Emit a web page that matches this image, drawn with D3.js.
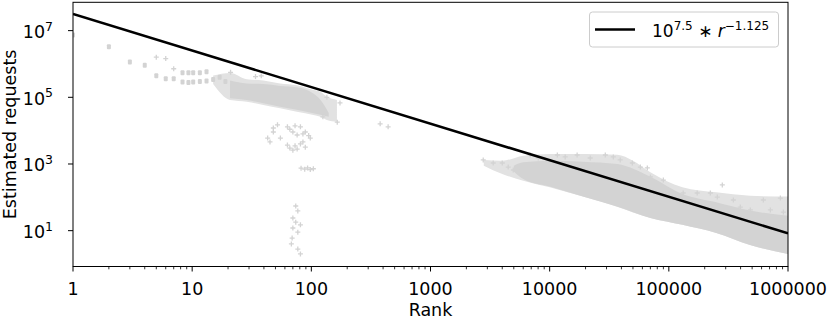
<!DOCTYPE html>
<html><head><meta charset="utf-8">
<script src="https://cdn.jsdelivr.net/npm/d3@7"></script>
<style>body{margin:0;background:#fff}svg{display:block}text{font-family:"DejaVu Sans",sans-serif;fill:#000}</style>
</head><body><svg id="c" width="830" height="320"></svg>
<script>
// ---- data ----
const xTicks = [1, 10, 100, 1000, 10000, 100000, 1000000];
const yTickExps = [1, 3, 5, 7];
const fitRank = [1, 1000000];
const fitValue = [3.16e7, 8.3];
// head points (squares)
const headRank  = [1, 2, 3, 4, 5, 6, 7, 8.3, 9.3, 10.2, 11.6, 13.2, 8.3, 9.3, 10.2, 11.6, 13.2, 15, 17, 19];
const headValue = [7.4e6, 3.3e6, 1.15e6, 9.1e5, 4.4e5, 3.6e5, 3.6e5, 5.5e5, 5.5e5, 5.5e5, 5.5e5, 5.8e5, 2.9e5, 2.8e5, 2.9e5, 3.0e5, 3.1e5, 3.4e5, 4.0e5, 3.0e5];
// sparse points (crosses)
const sparseRank = [5, 6, 7, 21, 34, 38,
  43, 48, 48, 52, 55, 45, 63, 66, 70, 73, 76, 81, 85, 89, 95, 98,
  63, 66, 70, 73, 76, 81, 85, 89,
  82, 88, 93, 98, 104,
  74, 77, 70, 74, 81, 70, 77, 69, 68, 77, 81,
  135, 174, 125, 165, 378, 441,
  2770, 3360, 4000, 4490, 4950, 5660, 6870, 8020, 11600, 13500, 17000, 21900, 29300, 34200, 39100,
  49400, 57700, 66000, 70000, 90000, 132000, 173000, 223000, 281000, 255000, 348000, 398000, 483000,
  621000, 863000, 711000, 914000, 830000];
const sparseValue = [1.6e6, 1.45e6, 7.2e5, 5.6e5, 4.2e5, 4.4e5,
  6000, 1.2e4, 9100, 1.5e4, 6000, 4600, 1.3e4, 1.1e4, 9100, 1.4e4, 7400, 1.3e4, 8000, 9100, 7100, 6000,
  3700, 3000, 2600, 3500, 2800, 4000, 4600, 3200,
  750, 700, 760, 680, 720,
  55, 39, 24, 18, 15, 12, 9, 6, 4, 2.8, 2,
  1.0e5, 6.8e4, 2.6e4, 1.8e4, 1.6e4, 1.3e4,
  1320, 1070, 1070, 810, 660, 575, 1860, 1510, 1860, 1630, 1860, 1510, 1860, 1630, 1320,
  1070, 810, 760, 410, 330, 135, 135, 135, 235, 102, 83, 51, 42,
  83, 95, 42, 36, 21];
// head cluster (ranks ~15-165): sparse envelope and dense core
const clusterHaloRank = [15, 20.8, 28.7, 39.6, 54.7, 75.5, 104, 119, 135, 164];
const clusterHaloLow  = [2.5e5, 8.3e4, 7.4e4, 5.9e4, 4.7e4, 3.7e4, 2.95e4, 2.6e4, 2.1e4, 1.86e4];
const clusterHaloHigh = [4.5e5, 5.4e5, 3.5e5, 3.2e5, 2.6e5, 2.3e5, 1.66e5, 1.48e5, 1.05e5, 8.3e4];
const clusterRank = [20.8, 28.7, 39.6, 54.7, 75.5, 104, 119, 140];
const clusterLow  = [9.3e4, 8.3e4, 6.6e4, 5.2e4, 4.2e4, 3.3e4, 3.0e4, 2.6e4];
const clusterHigh = [3.2e5, 2.6e5, 2.5e5, 2.2e5, 2.0e5, 1.3e5, 8.5e4, 3.4e4];
// long tail (ranks ~2800-1e6): sparse envelope and dense core
const bandHaloRank = [2800, 4000, 6000, 10000, 20000, 37000, 50000, 70000, 130000, 250000, 480000, 1000000];
const bandHaloLow  = [891, 501, 316, 200, 100, 52, 35, 24, 15, 8.5, 3.7, 2];
const bandHaloHigh = [1318, 1259, 1778, 1995, 1995, 1905, 1259, 562, 200, 141, 112, 105];
const bandRank = [5000, 6000, 10000, 19000, 37000, 70000, 130000, 250000, 480000, 1000000];
const bandLow  = [600, 355, 210, 105, 52, 24, 15, 8.5, 3.7, 2];
const bandHigh = [891, 1122, 1259, 1175, 1000, 417, 126, 71, 40, 28];

// ---- layout ----
const svg = d3.select("#c");
const L = 73, R = 788, T = 2.3, B = 266.5;
const x = d3.scaleLog().domain([1, 1e6]).range([L, R]);
const y = d3.scaleLog().domain([Math.pow(10, -0.075), Math.pow(10, 7.85)]).range([B, T]);
const grey = "#d3d3d3", halo = "#e2e2e2";
const FS = 17.5;

svg.append("clipPath").attr("id", "clp").append("rect")
  .attr("x", L).attr("y", T).attr("width", R - L).attr("height", B - T);
const g = svg.append("g").attr("clip-path", "url(#clp)");

const zip = (r, lo, hi) => r.map((v, i) => ({r: v, lo: lo[i], hi: hi[i]}));
const area = d3.area().x(d => x(d.r)).y0(d => y(d.lo)).y1(d => y(d.hi)).curve(d3.curveMonotoneX);
g.append("path").attr("d", area(zip(clusterHaloRank, clusterHaloLow, clusterHaloHigh))).attr("fill", halo);
g.append("path").attr("d", area(zip(bandHaloRank, bandHaloLow, bandHaloHigh))).attr("fill", halo);
g.append("path").attr("d", area(zip(clusterRank, clusterLow, clusterHigh))).attr("fill", grey);
g.append("path").attr("d", area(zip(bandRank, bandLow, bandHigh))).attr("fill", grey);

headRank.forEach((r, i) => {
  g.append("rect").attr("x", x(r) - 2).attr("y", y(headValue[i]) - 2.5)
    .attr("width", 4).attr("height", 5).attr("rx", 1).attr("fill", grey);
});
sparseRank.forEach((r, i) => {
  const cx = x(r), cy = y(sparseValue[i]);
  g.append("path").attr("d", `M${cx - 2.5},${cy}H${cx + 2.5}M${cx},${cy - 2.5}V${cy + 2.5}`)
    .attr("stroke", grey).attr("stroke-width", 1.3);
});

g.append("path")
  .attr("d", d3.line().x(d => x(d[0])).y(d => y(d[1]))(fitRank.map((r, i) => [r, fitValue[i]])))
  .attr("stroke", "#000").attr("stroke-width", 2.6).attr("fill", "none");

svg.append("rect").attr("x", L).attr("y", T).attr("width", R - L).attr("height", B - T)
  .attr("fill", "none").attr("stroke", "#000").attr("stroke-width", 1);

// x axis
const minor = [];
for (let e = 0; e < 6; e++) for (let k = 2; k <= 9; k++) minor.push(k * Math.pow(10, e));
minor.forEach(v => svg.append("line").attr("x1", x(v)).attr("x2", x(v)).attr("y1", B).attr("y2", B + 2.8)
  .attr("stroke", "#000").attr("stroke-width", 0.8));
xTicks.forEach(v => {
  svg.append("line").attr("x1", x(v)).attr("x2", x(v)).attr("y1", B).attr("y2", B + 5)
    .attr("stroke", "#000").attr("stroke-width", 1);
  svg.append("text").attr("x", x(v)).attr("y", 294.5).attr("text-anchor", "middle")
    .attr("font-size", FS).text(String(v));
});
svg.append("text").attr("x", (L + R) / 2).attr("y", 316).attr("text-anchor", "middle")
  .attr("font-size", FS).text("Rank");

// y axis
yTickExps.forEach(e => {
  const yy = y(Math.pow(10, e));
  svg.append("line").attr("x1", L - 5).attr("x2", L).attr("y1", yy).attr("y2", yy)
    .attr("stroke", "#000").attr("stroke-width", 1);
  const t = svg.append("text").attr("x", 53).attr("y", yy + 7.5).attr("text-anchor", "end").attr("font-size", FS);
  t.append("tspan").text("10");
  t.append("tspan").attr("dy", -7.5).attr("font-size", 12.5).text(String(e));
});
svg.append("text").attr("transform", `translate(15.5,${(T + B) / 2}) rotate(-90)`)
  .attr("text-anchor", "middle").attr("font-size", FS).text("Estimated requests");

// legend
const lg = svg.append("g");
lg.append("rect").attr("x", 589.5).attr("y", 12).attr("width", 189).attr("height", 35).attr("rx", 3)
  .attr("fill", "#fff").attr("fill-opacity", 0.8).attr("stroke", "#cccccc").attr("stroke-width", 1);
lg.append("line").attr("x1", 595).attr("x2", 635).attr("y1", 29.5).attr("y2", 29.5)
  .attr("stroke", "#000").attr("stroke-width", 2.6);
const lt = lg.append("text").attr("x", 652).attr("y", 36.5).attr("font-size", 17);
lt.append("tspan").text("10");
lt.append("tspan").attr("dy", -7).attr("font-size", 12).text("7.5");
lt.append("tspan").attr("dy", 7).text(" \u2217 ");
lt.append("tspan").attr("font-style", "italic").text("r");
lt.append("tspan").attr("dy", -7).attr("font-size", 12).text("\u22121.125");
</script></body></html>
